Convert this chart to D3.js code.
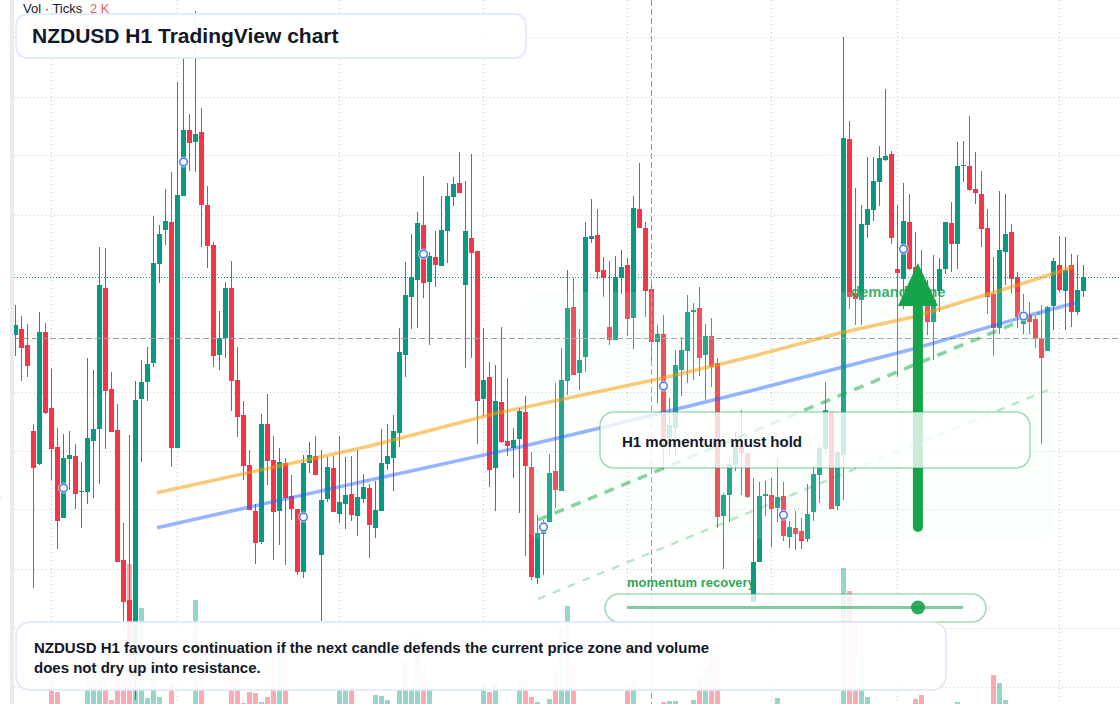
<!DOCTYPE html>
<html><head><meta charset="utf-8">
<script src="https://cdnjs.cloudflare.com/ajax/libs/d3/7.8.5/d3.min.js"></script>
<style>html,body{margin:0;padding:0;background:#fff;overflow:hidden}svg{display:block;font-family:"Liberation Sans",Arial,sans-serif}</style>
</head><body><div id="chart"></div>
<script>
// Prices are expressed in pips above 0.5000
const opens=[665,671,655,569,536,668,592,553,482,541,544,508,508,559,571,712,611,570,440,400,
345,601,618,637,736,770,778,552,804,870,858,868,795,755,645,662,712,620,585,535,
489,458,576,540,489,537,504,491,428,537,544,445,501,532,486,496,506,484,501,512,
472,489,536,542,567,645,703,720,775,718,743,734,769,803,817,715,762,749,601,623,
532,598,559,552,561,588,533,422,466,478,529,509,619,693,627,643,761,765,730,673,
660,722,735,682,791,772,711,658,666,562,572,630,649,688,692,645,664,637,484,505,
535,555,547,398,438,504,505,492,504,463,472,469,461,488,525,551,588,494,545,861,
707,700,775,790,818,840,846,731,721,778,733,710,704,678,709,731,777,756,834,834,
811,806,772,706,672,748,768,723,676,685,681,662,649,694,735,709,735,688,709];
const highs=[695,684,676,576,688,677,631,572,566,569,556,538,642,630,753,752,628,596,477,565,
619,640,653,784,775,811,828,918,945,886,989,892,814,758,689,718,739,653,599,550,
496,586,606,564,552,542,525,491,545,558,564,550,543,544,564,543,544,550,526,516,
519,571,576,585,672,738,766,788,824,748,769,804,817,823,848,819,846,749,672,638,
635,673,622,572,592,604,548,485,480,546,617,652,730,722,671,778,801,791,743,739,
744,750,742,804,837,778,715,675,685,602,650,663,705,697,713,676,682,642,507,542,
568,590,547,522,518,519,522,542,518,479,489,482,516,535,555,618,588,549,963,879,
812,795,843,843,854,911,849,795,817,806,768,750,720,745,742,778,798,858,859,884,
848,829,791,743,809,806,776,728,706,698,685,695,694,742,764,763,746,745,735];
const lows=[644,619,623,412,535,586,520,451,482,510,491,472,496,502,516,551,568,438,365,360,
300,538,599,633,717,755,533,552,804,829,828,753,732,633,630,642,589,563,520,490,
436,456,515,440,455,435,480,425,422,527,525,379,498,488,477,471,479,464,497,442,
462,489,530,509,553,623,671,672,702,655,713,734,737,794,807,632,642,556,584,513,
489,557,544,522,487,444,420,416,425,478,492,509,605,625,610,628,757,721,703,655,
660,706,664,651,772,683,639,597,531,545,544,604,617,620,624,600,613,472,431,478,
529,505,502,398,438,484,453,478,459,452,450,451,458,479,497,546,491,490,500,691,
675,675,762,779,794,839,756,623,691,730,680,685,665,640,688,726,728,731,818,809,
796,753,686,644,666,715,707,672,666,666,652,556,649,670,708,670,673,685,703];
const closes=[675,652,634,532,668,587,551,479,542,545,506,509,562,571,715,609,568,438,398,360,
600,618,636,737,766,779,552,805,870,857,866,795,754,644,662,712,619,583,534,490,
457,576,539,488,538,502,491,428,537,545,525,500,533,488,498,505,485,503,513,475,
490,537,544,569,648,705,723,777,717,744,735,770,804,816,807,769,747,599,620,530,
599,558,554,560,589,534,423,467,478,527,510,620,692,625,640,763,764,728,722,660,
723,733,681,792,772,709,658,666,561,575,635,650,688,690,642,664,633,483,505,536,
555,547,503,438,504,506,491,503,464,473,466,459,486,526,552,590,491,548,862,703,
701,776,791,819,842,844,762,727,779,731,700,695,678,700,731,778,756,834,835,810,
807,771,703,672,750,766,721,683,684,678,661,642,693,739,710,730,688,710,723];
const volumes=[0,0,0,0,0,0,23,12,0,0,0,0,44,45,51,62,4,26,24,140,
68,96,6,45,7,0,20,0,0,0,104,30,0,0,0,0,26,26,1,12,
11,2,7,59,49,56,0,0,0,0,0,0,0,0,14,16,15,0,0,0,
9,8,4,0,14,42,17,66,38,23,0,0,0,0,0,0,0,0,19,12,
21,0,0,0,24,24,7,2,0,5,34,75,98,38,0,0,0,0,0,0,
0,0,19,24,0,0,0,0,2,3,3,0,0,4,27,35,51,48,0,0,
0,0,0,0,0,0,0,6,0,0,0,0,0,0,0,0,0,0,136,113,
82,48,7,0,0,0,0,0,0,0,5,9,0,0,0,0,0,2,0,0,
0,0,0,29,21,4,0,0,0,0,0,0,0,0,0,0,0,0,0];
const priceGridValues=[962,903,844,785,726,667,608,549,490,431,372,313];
const timeGridBars=[6,27,54,78,102,126,147,174];
const markerBars=[8,28,48,68,88,108,128,148,168];
const markerValues=[512,838,483,746,473,614,485,751,684];
const crosshairBar=106, crosshairValue=662, lastValue=723;
const trendOrange=[[23.58,507.3],[59.08,554],[80.25,587],[107.92,622],[122.42,643],[137.42,667],[149.58,683],[167.08,715],[176.25,733]];
const trendBlue=[[23.58,472.3],[59.08,520],[84.08,553],[97.42,572],[122.42,609],[137.92,633],[149.58,651],[167.92,683],[176.58,697]];
const channelMain=[[87.08,480],[170.75,687]];
const channelLow=[[87.08,401],[172.08,610]];
const arrowBar=150.4, arrowFrom=473, arrowBase=694, arrowTip=737;
const leftTickValues=[668,503];
const texts={vol:"Vol · Ticks",volValue:"2 K",title:"NZDUSD H1 TradingView chart",
 zone:"demand zone",hold:"H1 momentum must hold",rec:"momentum recovery",
 note:["NZDUSD H1 favours continuation if the next candle defends the current price zone and volume","does not dry up into resistance."]};

const W=1120,H=704,UP="#089981",DOWN="#f23645",GREEN="#16a34a";
const x=d3.scaleLinear().domain([0,1]).range([15.5,21.5]);
const y=d3.scaleLinear().domain([296,1000]).range([704,0]);
const yv=d3.scaleLinear().domain([0,704]).range([704,0]);
const bars=opens.map((o,i)=>({i,o,h:highs[i],l:lows[i],c:closes[i],v:volumes[i],up:closes[i]>=o}));
const svg=d3.select("#chart").append("svg").attr("width",W).attr("height",H);
svg.append("defs").append("clipPath").attr("id","pane").append("rect").attr("x",14).attr("y",0).attr("width",W-14).attr("height",H);
svg.append("rect").attr("x",10).attr("y",0).attr("width",4).attr("height",H).attr("fill","#ebebeb");
svg.selectAll(".lt").data(leftTickValues).join("line").attr("x1",0).attr("x2",2).attr("y1",d=>Math.floor(y(d))+.5).attr("y2",d=>Math.floor(y(d))+.5).attr("stroke","#dcdcdc");
const g=svg.append("g").attr("clip-path","url(#pane)");
// grid
g.selectAll(".hg").data(priceGridValues).join("line").attr("x1",14).attr("x2",W)
 .attr("y1",d=>Math.floor(y(d))+.5).attr("y2",d=>Math.floor(y(d))+.5)
 .attr("stroke","#cccccc").attr("stroke-dasharray","1 3");
g.selectAll(".vg").data(timeGridBars).join("line").attr("y1",0).attr("y2",H)
 .attr("x1",d=>x(d)).attr("x2",d=>x(d)).attr("stroke","#cccccc").attr("stroke-dasharray","1 3");
// volume
g.selectAll(".vol").data(bars.filter(b=>b.v>0)).join("rect")
 .attr("x",b=>x(b.i)-2.5).attr("width",5).attr("y",b=>yv(b.v)).attr("height",b=>yv(0)-yv(b.v))
 .attr("fill",b=>b.up?UP:DOWN).attr("fill-opacity",.42);
// candles
g.selectAll(".wick").data(bars).join("rect").attr("x",b=>x(b.i)-.5).attr("width",1)
 .attr("y",b=>y(b.h)).attr("height",b=>y(b.l)-y(b.h)).attr("fill",b=>b.up?UP:DOWN);
g.selectAll(".body").data(bars).join("rect").attr("x",b=>x(b.i)-2.5).attr("width",5)
 .attr("y",b=>y(Math.max(b.o,b.c))).attr("height",b=>Math.max(1,Math.abs(y(b.o)-y(b.c))))
 .attr("fill",b=>b.up?UP:DOWN);
// last price & crosshair
g.append("line").attr("x1",14).attr("x2",W).attr("y1",Math.floor(y(lastValue))+.5).attr("y2",Math.floor(y(lastValue))+.5)
 .attr("stroke",UP).attr("stroke-dasharray","1 2");
g.append("line").attr("x1",14).attr("x2",W).attr("y1",y(crosshairValue)+.5).attr("y2",y(crosshairValue)+.5)
 .attr("stroke","#9c9c9c").attr("stroke-dasharray","6 3");
g.append("line").attr("y1",0).attr("y2",H).attr("x1",x(crosshairBar)).attr("x2",x(crosshairBar))
 .attr("stroke","#9c9c9c").attr("stroke-dasharray","6 3");
// zone
g.append("rect").attr("x",527).attr("y",292).attr("width",525).attr("height",247).attr("rx",14)
 .attr("fill","#dcfce7").attr("fill-opacity",.14);
const lineGen=d3.line().x(p=>x(p[0])).y(p=>y(p[1]));
const seg=(pts,col,w,op,dash)=>g.append("path").attr("d",lineGen(pts)).attr("fill","none")
 .attr("stroke",col).attr("stroke-width",w).attr("stroke-opacity",op).attr("stroke-dasharray",dash||null);
seg(trendOrange,"#f59e0b",3.5,.55);
seg(trendBlue,"#2962ff",3.5,.48);
seg(channelMain,GREEN,3.5,.5,"10 8");
seg(channelLow,GREEN,2.2,.3,"8 8");
// markers
g.selectAll(".mkh").data(markerBars).join("circle").attr("cx",d=>x(d)).attr("cy",(d,i)=>y(markerValues[i]))
 .attr("r",5.5).attr("fill","#fff").attr("fill-opacity",.6);
g.selectAll(".mk").data(markerBars).join("circle").attr("cx",d=>x(d)).attr("cy",(d,i)=>y(markerValues[i]))
 .attr("r",3.8).attr("fill","#fff").attr("stroke","#2962ff").attr("stroke-width",1.5).attr("stroke-opacity",.85);
// demand label and arrow
g.append("text").attr("x",851).attr("y",297).attr("font-size",14.8).attr("font-weight",700).attr("fill",GREEN).attr("fill-opacity",.85).text(texts.zone);
g.append("line").attr("x1",x(arrowBar)).attr("x2",x(arrowBar)).attr("y1",y(arrowFrom)).attr("y2",y(arrowBase))
 .attr("stroke",GREEN).attr("stroke-width",10).attr("stroke-linecap","round");
g.append("path").attr("fill",GREEN).attr("d",d3.line()([[x(arrowBar),y(arrowTip)],[x(arrowBar)+20,y(arrowBase)],[x(arrowBar)-20,y(arrowBase)]])+"Z");
// panels
const panel=(px,py,pw,ph,rx,fill,fo,stroke,so,sw)=>svg.append("rect").attr("x",px).attr("y",py).attr("width",pw).attr("height",ph).attr("rx",rx)
 .attr("fill",fill).attr("fill-opacity",fo).attr("stroke",stroke).attr("stroke-opacity",so).attr("stroke-width",sw);
panel(600,412,430,56,14,"#fff",.78,GREEN,.4,1.5);
svg.append("text").attr("x",622).attr("y",446.5).attr("font-size",15).attr("font-weight",700).attr("fill","#111827").text(texts.hold);
panel(605,594,381,28,14,"#fff",.8,GREEN,.4,1.5);
svg.append("line").attr("x1",627).attr("x2",963).attr("y1",607.5).attr("y2",607.5).attr("stroke",GREEN).attr("stroke-width",3).attr("stroke-opacity",.55);
svg.append("circle").attr("cx",918).attr("cy",607.5).attr("r",7).attr("fill",GREEN).attr("fill-opacity",.9);
svg.append("text").attr("x",627).attr("y",587).attr("font-size",13).attr("font-weight",700).attr("fill",GREEN).attr("fill-opacity",.95).text(texts.rec);
panel(16,14,510,44,11,"#fff",.92,"#dbe7fb",1,1.5);
svg.append("text").attr("x",32).attr("y",43).attr("font-size",21).attr("font-weight",700).attr("fill","#111827").text(texts.title);
panel(16,622,930,68,14,"#fff",.92,"#dbe7fb",1,1.5);
svg.selectAll(".note").data(texts.note).join("text").attr("x",34).attr("y",(d,i)=>653+i*20).attr("font-size",15).attr("font-weight",700).attr("fill","#111827").text(d=>d);
svg.append("text").attr("x",23).attr("y",13).attr("font-size",13).attr("fill","#131722").text(texts.vol);
svg.append("text").attr("x",90).attr("y",13).attr("font-size",13).attr("fill","#f23645").attr("fill-opacity",.85).text(texts.volValue);
</script></body></html>
